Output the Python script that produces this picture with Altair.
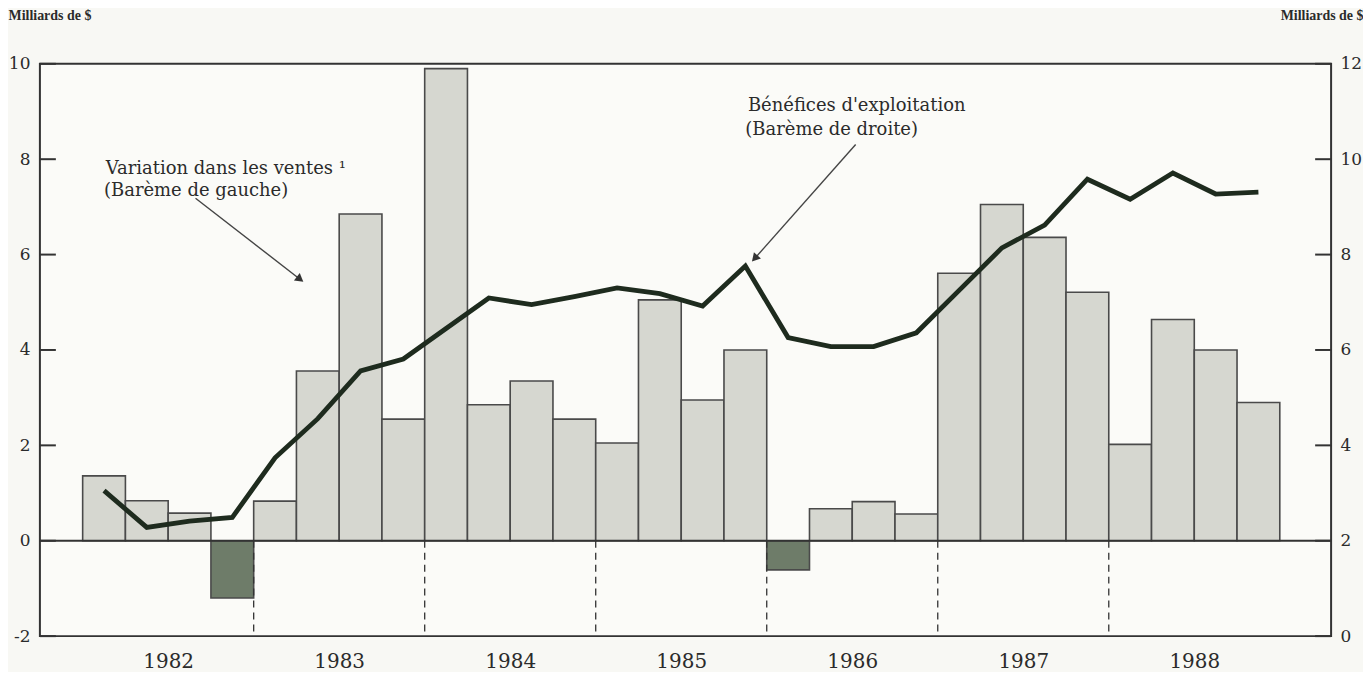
import altair as alt
import pandas as pd

# ---------------- data ----------------
years = ["1982", "1983", "1984", "1985", "1986", "1987", "1988"]
quarters = ["T1", "T2", "T3", "T4"]

# Variation dans les ventes (left scale, billions $)
sales_change = [1.36, 0.84, 0.58, -1.20,
                0.83, 3.56, 6.85, 2.55,
                9.90, 2.85, 3.35, 2.55,
                2.05, 5.05, 2.95, 4.00,
                -0.61, 0.67, 0.82, 0.56,
                5.61, 7.05, 6.36, 5.21,
                2.02, 4.64, 4.00, 2.90]

# Bénéfices d'exploitation (right scale, billions $)
operating_profit = [3.05, 2.28, 2.41, 2.49,
                    3.74, 4.56, 5.56, 5.81,
                    6.45, 7.09, 6.95, 7.12,
                    7.30, 7.18, 6.92, 7.76,
                    6.26, 6.07, 6.07, 6.36,
                    7.25, 8.14, 8.62, 9.58,
                    9.16, 9.71, 9.27, 9.31]

left_ticks = [-2, 0, 2, 4, 6, 8, 10]
right_ticks = [0, 2, 4, 6, 8, 10, 12]
axis_title = "Milliards de $"

ann_text = ["Variation dans les ventes \u00b9", "(Barème de gauche)",
            "Bénéfices d'exploitation", "(Barème de droite)"]
ann_x = [1.54, 1.50, 16.56, 16.50]
ann_y = [7.80, 7.34, 9.12, 8.62]

arrow_x = [3.64, 19.08]
arrow_y = [7.18, 8.31]
arrow_x2 = [6.06, 16.74]
arrow_y2 = [5.50, 5.94]
arrow_angle = [128, 222]

# ---------------- tables ----------------
rows = []
for i, v in enumerate(sales_change):
    rows.append({"year": years[i // 4], "quarter": quarters[i % 4],
                 "start": i + 1, "end": i + 2, "mid": i + 1.5,
                 "sales": v, "profit": operating_profit[i]})
df = pd.DataFrame(rows)

bounds = pd.DataFrame({"b": [4 * j + 5 for j in range(len(years) - 1)],
                       "top": 0, "bottom": -2})
year_pos = [4 * j + 3 for j in range(len(years))]
label_expr = "[" + ",".join(f"'{y}'" for y in years) + "][(datum.value - 3) / 4]"

ann = pd.DataFrame({"t": ann_text, "x": ann_x, "y": ann_y})
arrows = pd.DataFrame({"x": arrow_x, "y": arrow_y, "x2": arrow_x2,
                       "y2": arrow_y2, "a": arrow_angle})
lt = pd.DataFrame({"v": left_ticks})
rt = pd.DataFrame({"v": right_ticks})
zero_df = pd.DataFrame({"z": [0]})

W, H = 1295, 574
FONT = "DejaVu Serif"
INK = "#2b2b2b"

xs = alt.Scale(domain=[0, 30.2], nice=False, zero=False)
yl = alt.Scale(domain=[-2, 10], nice=False, zero=False)
yr = alt.Scale(domain=[0, 12], nice=False, zero=False)

x_axis = alt.Axis(values=year_pos, labelExpr=label_expr, title=None, ticks=False,
                  domain=False, grid=False, labelPadding=15, labelFontSize=20,
                  labelFont=FONT, labelColor=INK)


def X(field):
    return alt.X(field, type="quantitative", scale=xs, axis=x_axis)


left_axis = alt.Axis(values=left_ticks, title=axis_title, titleAngle=0,
                     titleX=-32, titleY=-44, titleAlign="left",
                     titleBaseline="alphabetic", titleFont="Liberation Serif",
                     titleFontSize=14, titleFontWeight="bold", titleColor=INK,
                     ticks=False, domain=False, grid=False, labelPadding=10,
                     labelFont=FONT, labelFontSize=17, labelColor=INK,
                     labelExpr="datum.value < 0 ? '-' + abs(datum.value) : '' + datum.value")

right_axis = alt.Axis(values=right_ticks, orient="right", title=axis_title,
                      titleAngle=0, titleX=32, titleY=-44, titleAlign="right",
                      titleBaseline="alphabetic", titleFont="Liberation Serif",
                      titleFontSize=14, titleFontWeight="bold", titleColor=INK,
                      ticks=False, domain=False, grid=False, labelPadding=9,
                      labelFont=FONT, labelFontSize=17, labelColor=INK)

bars = alt.Chart(df).mark_bar(stroke="#4a4a4a", strokeWidth=1.6).encode(
    x=X("start"),
    x2="end:Q",
    y=alt.Y("sales:Q", scale=yl, axis=left_axis),
    y2=alt.datum(0),
    color=alt.condition("datum.sales < 0", alt.value("#6e7c69"), alt.value("#d6d7d0")),
)

dashes = alt.Chart(bounds).mark_rule(color="#333", strokeWidth=1.3,
                                     strokeDash=[7, 5]).encode(
    x=X("b"),
    y=alt.Y("top:Q", scale=yl, axis=None),
    y2="bottom:Q",
)

zero = alt.Chart(zero_df).mark_rule(color="#333", strokeWidth=2).encode(
    y=alt.Y("z:Q", scale=yl, axis=None),
)

lticks = alt.Chart(lt).mark_rule(color="#333", strokeWidth=2).encode(
    y=alt.Y("v:Q", scale=yl, axis=None),
    x=alt.value(0), x2=alt.value(16),
)

texts = alt.Chart(ann).mark_text(align="left", baseline="middle", font=FONT,
                                 fontSize=18, color=INK).encode(
    x=X("x"),
    y=alt.Y("y:Q", scale=yl, axis=None),
    text="t:N",
)

arrow_lines = alt.Chart(arrows).mark_rule(color="#444", strokeWidth=1.4).encode(
    x=X("x"),
    x2="x2:Q",
    y=alt.Y("y:Q", scale=yl, axis=None),
    y2="y2:Q",
)

arrow_heads = alt.Chart(arrows).mark_point(shape="triangle", filled=True, size=90,
                                           color="#333", opacity=1).encode(
    x=X("x2"),
    y=alt.Y("y2:Q", scale=yl, axis=None),
    angle=alt.Angle("a:Q", scale=None),
)

line = alt.Chart(df).mark_line(color="#1e2b1e", strokeWidth=4.8,
                               strokeJoin="miter").encode(
    x=X("mid"),
    y=alt.Y("profit:Q", scale=yr, axis=right_axis),
)

rticks = alt.Chart(rt).mark_rule(color="#333", strokeWidth=2).encode(
    y=alt.Y("v:Q", scale=yr, axis=None),
    x=alt.value(W - 16), x2=alt.value(W),
)

chart = alt.layer(bars, dashes, zero, lticks, arrow_lines, arrow_heads, texts,
                  rticks, line).resolve_scale(y="independent").properties(
    width=W, height=H, padding=0, background="#f8f8f4",
).configure_view(stroke="#333", strokeWidth=2, fill="#fbfbf8")

chart.save("out.html", embed_options={"renderer": "svg", "actions": False})
